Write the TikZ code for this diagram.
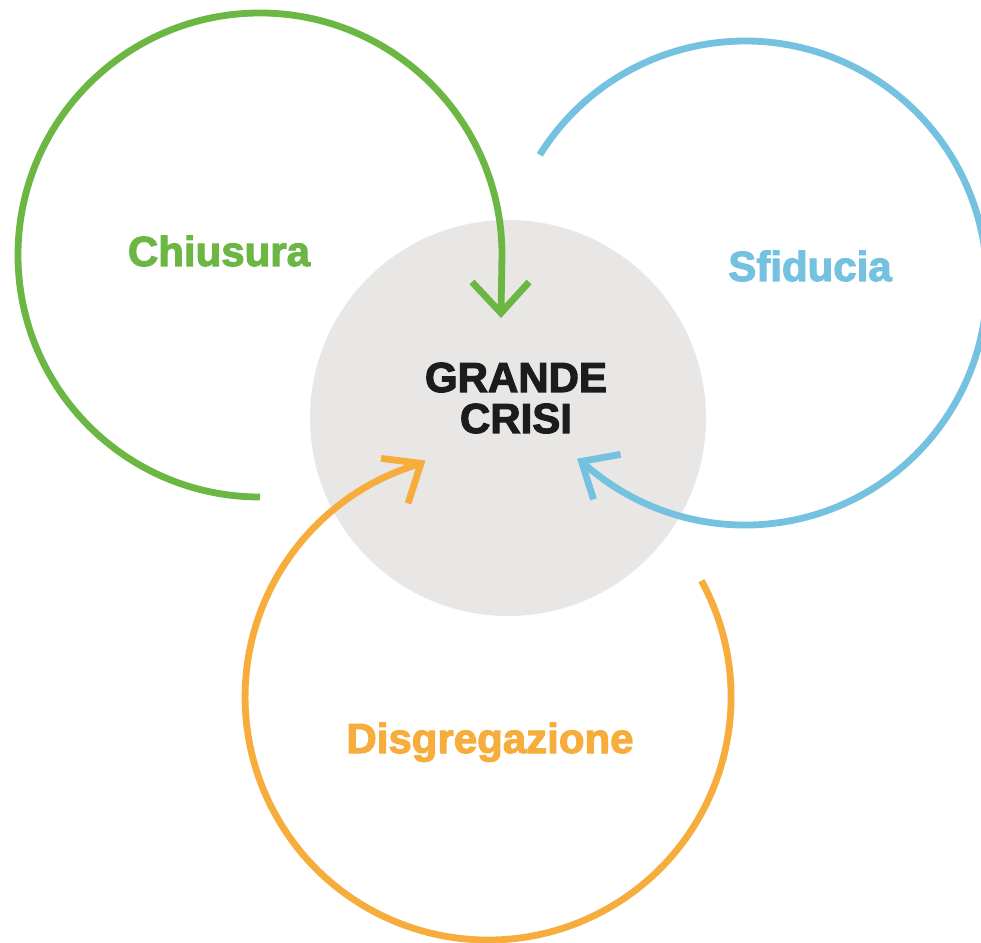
\documentclass[tikz,border=0pt]{standalone}
\usepackage{fontspec}
\setmainfont{Liberation Sans}
\newfontfamily\heavy[FakeBold=2.6]{Liberation Sans Bold}
\usetikzlibrary{calc}
\definecolor{gc}{HTML}{6CB644}
\definecolor{bc}{HTML}{74C2E0}
\definecolor{oc}{HTML}{F6AD3B}
\definecolor{corec}{HTML}{E8E7E6}
\definecolor{txtc}{HTML}{1C1C1C}
\tikzset{
  loop/.style={line width=6.8pt, line cap=butt},
  chev/.style={line width=6.8pt, line cap=butt, line join=miter, miter limit=10},
  lbl/.style={font=\heavy\fontsize{42}{42}\selectfont, anchor=base, inner sep=0pt}
}
\begin{document}
\begin{tikzpicture}[x=1pt,y=1pt]
\useasboundingbox (0,0) rectangle (981,942);
\fill[white] (0,0) rectangle (981,942);
% central disc
\node[circle, fill=corec, minimum size=396pt, inner sep=0pt] (core) at (508,524) {};
% green loop
\coordinate (gstart) at (260,445);
\coordinate (gtip) at (501,629);
\draw[loop, gc] (gstart) arc[start angle=270, end angle=0, radius=242] -- (gtip);
\coordinate (ga1) at ($(gtip)+(-29,31)$);
\coordinate (ga2) at ($(gtip)+(28,31)$);
\draw[chev, gc] (ga1) -- (gtip) -- (ga2);
% blue loop
\coordinate (bstart) at (539.8,787.2);
\coordinate (btip) at (581.5,480.6);
\draw[loop, bc] (bstart) arc[start angle=148, end angle=-132.5, radius=242];
\coordinate (ba1) at ($(btip)+(39,7)$);
\coordinate (ba2) at ($(btip)+(12,-38)$);
\draw[chev, bc] (ba1) -- (btip) -- (ba2);
% orange loop
\coordinate (ostart) at (701.4,361.3);
\coordinate (otip) at (421.0,478.6);
\draw[loop, oc] (ostart) arc[start angle=28.6, end angle=-254, radius=243];
\coordinate (oa1) at ($(otip)+(-40,5)$);
\coordinate (oa2) at ($(otip)+(-13,-40)$);
\draw[chev, oc] (oa1) -- (otip) -- (oa2);
% labels
\node[lbl, text=gc] (chiusura) at (219,676) {Chiusura};
\node[lbl, text=bc] (sfiducia) at (810,661) {Sfiducia};
\node[lbl, text=oc] (disgregazione) at (490,189) {Disgregazione};
\node[lbl, text=txtc] (grande) at (516,550) {GRANDE};
\node[lbl, text=txtc] (crisi) at (516,509) {CRISI};
\end{tikzpicture}
\end{document}
